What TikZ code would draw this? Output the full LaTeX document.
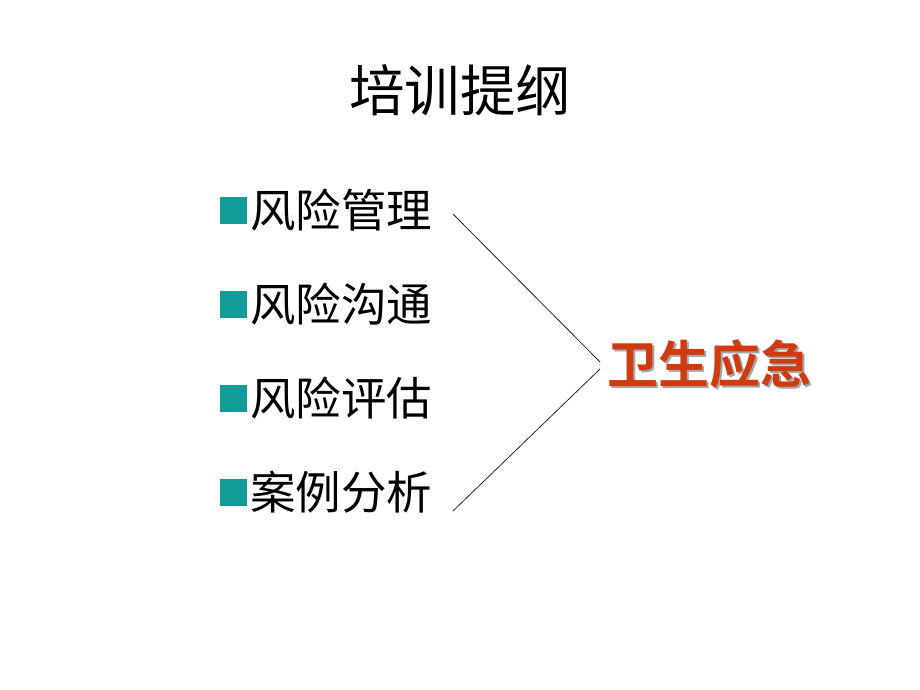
\documentclass[tikz,border=0pt]{standalone}
\usepackage{fontspec}
\newfontfamily\cjk{Noto Sans CJK SC}
\newfontfamily\cjkbold{Noto Sans CJK SC Bold}
\definecolor{teal1}{HTML}{119C9A}
\definecolor{redtxt}{HTML}{D03A10}
\newcommand{\shadowed}[1]{\makebox[0pt][l]{\hspace{2pt}\raisebox{-2.5pt}{\textcolor{black!35}{#1}}}#1}
\tikzset{
  item/.style={anchor=west, inner sep=0pt, font=\cjk\fontsize{45.5}{45.5}\selectfont},
  bullet/.style={fill=teal1, minimum size=27pt, inner sep=0pt},
  link/.style={draw=black!85, line width=0.8pt},
}
\begin{document}
\begin{tikzpicture}[x=1pt,y=-1pt]
\useasboundingbox[fill=white] (0,0) rectangle (920,690);
\node[inner sep=0pt, font=\cjk\fontsize{55.5}{55.5}\selectfont] (title) at (460,90) {培训提纲};
\node[bullet] (b1) at (233,210) {};
\node[bullet] (b2) at (233,304) {};
\node[bullet] (b3) at (233,398) {};
\node[bullet] (b4) at (233,492) {};
\node[item] (i1) at (250,210) {风险管理};
\node[item] (i2) at (250,304) {风险沟通};
\node[item] (i3) at (250,398) {风险评估};
\node[item] (i4) at (250,492) {案例分析};
\node[inner sep=0pt, text=redtxt, font=\cjkbold\fontsize{51}{51}\selectfont] (goal) at (709,365) {\shadowed{卫生应急}};
\coordinate (t1) at (453,214);
\coordinate (a1) at (600,362);
\coordinate (a2) at (600,369);
\coordinate (t2) at (453,511);
\draw[link] (t1) -- (a1);
\draw[link] (a2) -- (t2);
\end{tikzpicture}
\end{document}
